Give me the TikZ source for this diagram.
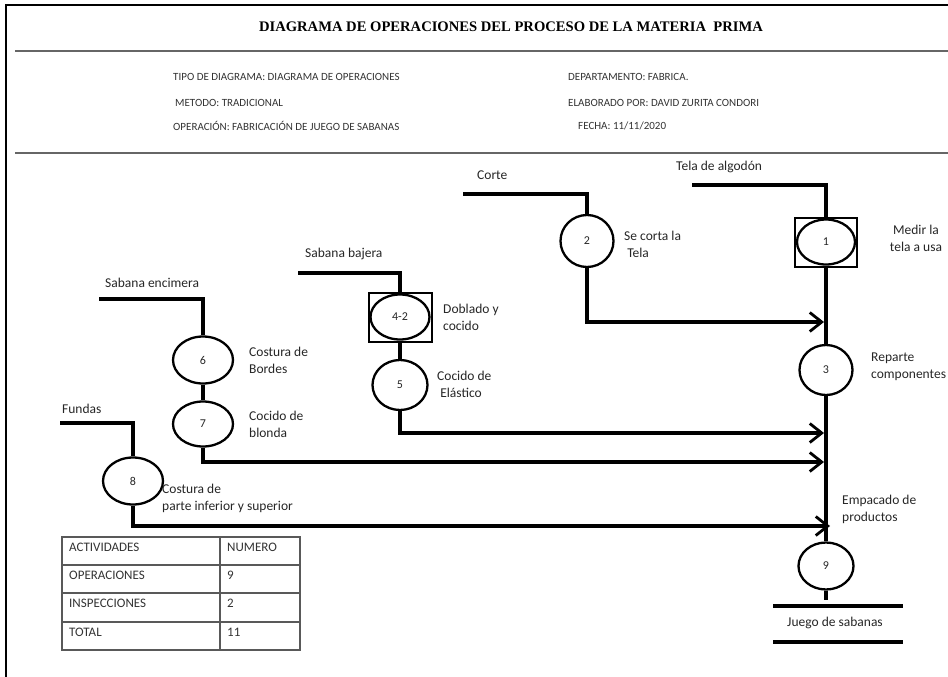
\documentclass[tikz,border=0pt]{standalone}
\usepackage{fontspec}
\setmainfont{Carlito}
\newfontfamily\titlefont{Liberation Serif}
\usetikzlibrary{shapes.geometric,arrows.meta}

\begin{document}
\begin{tikzpicture}[x=1pt,y=-1pt,
  op/.style={ellipse,draw,line width=2.3pt,inner sep=0pt,
    font=\fontsize{12}{13}\selectfont,text=black!85},
  insp/.style={draw,line width=2pt,inner sep=0pt},
  flow/.style={line width=3.8pt},
  arr/.style={flow,-{Straight Barb[length=12pt,width=19pt,line width=2.8pt]}},
  lbl/.style={font=\fontsize{13.5}{17}\selectfont,align=left,anchor=west,
    inner sep=0pt,text=black!85},
  head/.style={font=\fontsize{11}{12}\selectfont,anchor=west,inner sep=0pt,
    text=black!80},
  cell/.style={font=\fontsize{13}{14}\selectfont,anchor=west,inner sep=0pt,
    text=black!80},
  rule/.style={line width=2.2pt,black!60},
  grid/.style={line width=1.3pt,black!65},
]
\useasboundingbox (0,0) rectangle (948,677);
\clip (0,0) rectangle (948,677);

% ---------- frame and heading ----------
\draw[line width=1.8pt] (6,677) -- (6,5) -- (948,5);
\node[font=\titlefont\bfseries\fontsize{14.6}{16}\selectfont] (title) at (511,27)
  {DIAGRAMA DE OPERACIONES DEL PROCESO DE LA MATERIA\ \ PRIMA};
\draw[rule] (15,51) -- (948,51);
\draw[rule] (15,153) -- (948,153);

\node[head] (h1) at (173,77)  {TIPO DE DIAGRAMA: DIAGRAMA DE OPERACIONES};
\node[head] (h2) at (175,103) {METODO: TRADICIONAL};
\node[head] (h3) at (173,126) {OPERACIÓN: FABRICACIÓN DE JUEGO DE SABANAS};
\node[head] (h4) at (568,77)  {DEPARTAMENTO: FABRICA.};
\node[head] (h5) at (568,103) {ELABORADO POR: DAVID ZURITA CONDORI};
\node[head] (h6) at (578,126) {FECHA: 11/11/2020};

% ---------- operations and inspections ----------
\node[insp,minimum width=62pt,minimum height=49pt] (b1) at (826,242) {};
\node[op,minimum width=58pt,minimum height=45pt] (n1) at (826,242) {1};
\node[op,minimum width=53pt,minimum height=52pt] (n2) at (587,241) {2};
\node[op,minimum width=53pt,minimum height=50pt] (n3) at (826,370) {3};
\node[op,minimum width=55pt,minimum height=47pt] (n9) at (826,566) {9};
\node[insp,minimum width=63pt,minimum height=49pt] (b42) at (400,317) {};
\node[op,minimum width=59pt,minimum height=45pt] (n42) at (400,317) {4-2};
\node[op,minimum width=55pt,minimum height=50pt] (n5) at (400,385) {5};
\node[op,minimum width=60pt,minimum height=47pt] (n6) at (203,360) {6};
\node[op,minimum width=60pt,minimum height=45pt] (n7) at (203,424) {7};
\node[op,minimum width=60pt,minimum height=47pt] (n8) at (133,481) {8};

% ---------- free ends of the flow lines ----------
\coordinate (t0) at (692,185);
\coordinate (c0) at (463,194);
\coordinate (sb0) at (298,273);
\coordinate (se0) at (99,299);
\coordinate (f0) at (60,423);
\coordinate (m2) at (824,322);
\coordinate (m5) at (824,433);
\coordinate (m7) at (824,462);
\coordinate (m8) at (830,526);
\coordinate (j0) at (826,600);
\coordinate (jl1) at (773,606);
\coordinate (jr1) at (903,606);
\coordinate (jl2) at (773,642);
\coordinate (jr2) at (903,642);

% ---------- main line ----------
\draw[flow] (t0) -| (b1.north);
\draw[flow] (b1.south) -- (n3.north);
\draw[flow] (n3.south) -- (n9.north);
\draw[flow] (n9.south) -- (j0);
\draw[flow] (jl1) -- (jr1);
\draw[flow] (jl2) -- (jr2);

% ---------- feeding lines ----------
\draw[flow] (c0) -| (n2.north);
\draw[arr] (n2.south) |- (m2);
\draw[flow] (sb0) -| (b42.north);
\draw[flow] (b42.south) -- (n5.north);
\draw[arr] (n5.south) |- (m5);
\draw[flow] (se0) -| (n6.north);
\draw[flow] (n6.south) -- (n7.north);
\draw[arr] (n7.south) |- (m7);
\draw[flow] (f0) -| (n8.north);
\draw[arr] (n8.south) |- (m8);

% ---------- labels ----------
\node[lbl] (lcorte) at (477,175) {Corte};
\node[lbl] (ltela) at (676,167) {Tela de algodón};
\node[lbl] (l2) at (624,244.5) {Se corta la\\\ Tela};
\node[lbl,align=center,anchor=center] (l1) at (916,238.5) {Medir la\\tela a usa};
\node[lbl] (l3) at (871,367) {Reparte\\componentes};
\node[lbl] (lsb) at (305,254) {Sabana bajera};
\node[lbl] (l42) at (443,317.5) {Doblado y\\cocido};
\node[lbl] (l5) at (437,384.5) {Cocido de\\\ Elástico};
\node[lbl] (lse) at (105,283) {Sabana encimera};
\node[lbl] (l6) at (249,360.5) {Costura de\\Bordes};
\node[lbl] (l7) at (249,424.5) {Cocido de\\blonda};
\node[lbl] (lf) at (62,409) {Fundas};
\node[lbl] (l8) at (162,498.5) {Costura de\\parte inferior y superior};
\node[lbl] (l9) at (842,509.5) {Empacado de\\productos};
\node[lbl] (lj) at (787,623) {Juego de sabanas};

% ---------- summary table ----------
\draw[grid] (62,537) rectangle (300,650);
\draw[grid] (220,537) -- (220,650);
\draw[grid] (62,565) -- (300,565);
\draw[grid] (62,593) -- (300,593);
\draw[grid] (62,622) -- (300,622);
\node[cell] (ta) at (69,547) {ACTIVIDADES};
\node[cell] (tb) at (227,547) {NUMERO};
\node[cell] (tc) at (69,575) {OPERACIONES};
\node[cell] (td) at (227,575) {9};
\node[cell] (te) at (69,603) {INSPECCIONES};
\node[cell] (tf) at (227,603) {2};
\node[cell] (tg) at (69,632) {TOTAL};
\node[cell] (th) at (227,632) {11};
\end{tikzpicture}
\end{document}
